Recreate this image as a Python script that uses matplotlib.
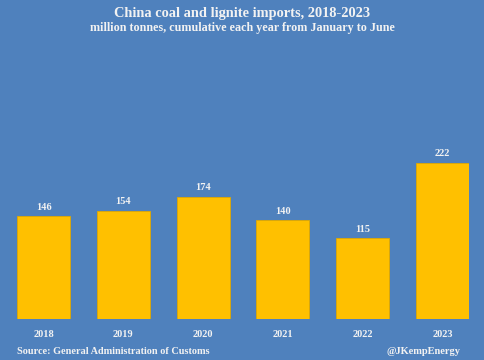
import matplotlib.pyplot as plt

years = ['2018', '2019', '2020', '2021', '2022', '2023']
imports = [146, 154, 174, 140, 115, 222]

bg = '#4F81BD'
plt.rcParams['font.family'] = ['Liberation Serif', 'DejaVu Serif']
plt.rcParams['font.weight'] = 'bold'

fig = plt.figure(figsize=(4.85, 3.6), dpi=100, facecolor=bg)
ax = fig.add_axes([17 / 485, 41 / 360, 452 / 485, 176 / 360])
ax.set_facecolor(bg)

x = range(len(years))
bars = ax.bar(x, imports, width=0.665, color='#FFC000', edgecolor='#E0A800', linewidth=0.6)
for xi, v in zip(x, imports):
    ax.text(xi, v + 6, str(v), ha='center', va='bottom', color='#F2F2F2',
            fontsize=7.5, fontweight='bold')

ax.set_xlim(-0.333, 5.333)
ax.set_ylim(0, 250)
ax.set_xticks(list(x))
ax.set_xticklabels(years, color='#F2F2F2', fontsize=7.5, fontweight='bold')
ax.tick_params(axis='x', length=0, pad=8)
ax.set_yticks([])
for s in ax.spines.values():
    s.set_visible(False)

fig.text(0.5, 1 - 13 / 360, 'China coal and lignite imports, 2018-2023', ha='center',
         va='center', color='#F2F2F2', fontsize=10.4, fontweight='bold')
fig.text(0.5, 1 - 28 / 360, 'million tonnes, cumulative each year from January to June',
         ha='center', va='center', color='#F2F2F2', fontsize=8.7, fontweight='bold')
fig.text(17 / 485, 1 - 351 / 360, 'Source: General Administration of Customs',
         ha='left', va='center', color='#F2F2F2', fontsize=7.4, fontweight='bold')
fig.text(461 / 485, 1 - 351 / 360, '@JKempEnergy', ha='right', va='center',
         color='#F2F2F2', fontsize=7.5, fontweight='bold')

fig.savefig('out.png', dpi=100, facecolor=bg)
